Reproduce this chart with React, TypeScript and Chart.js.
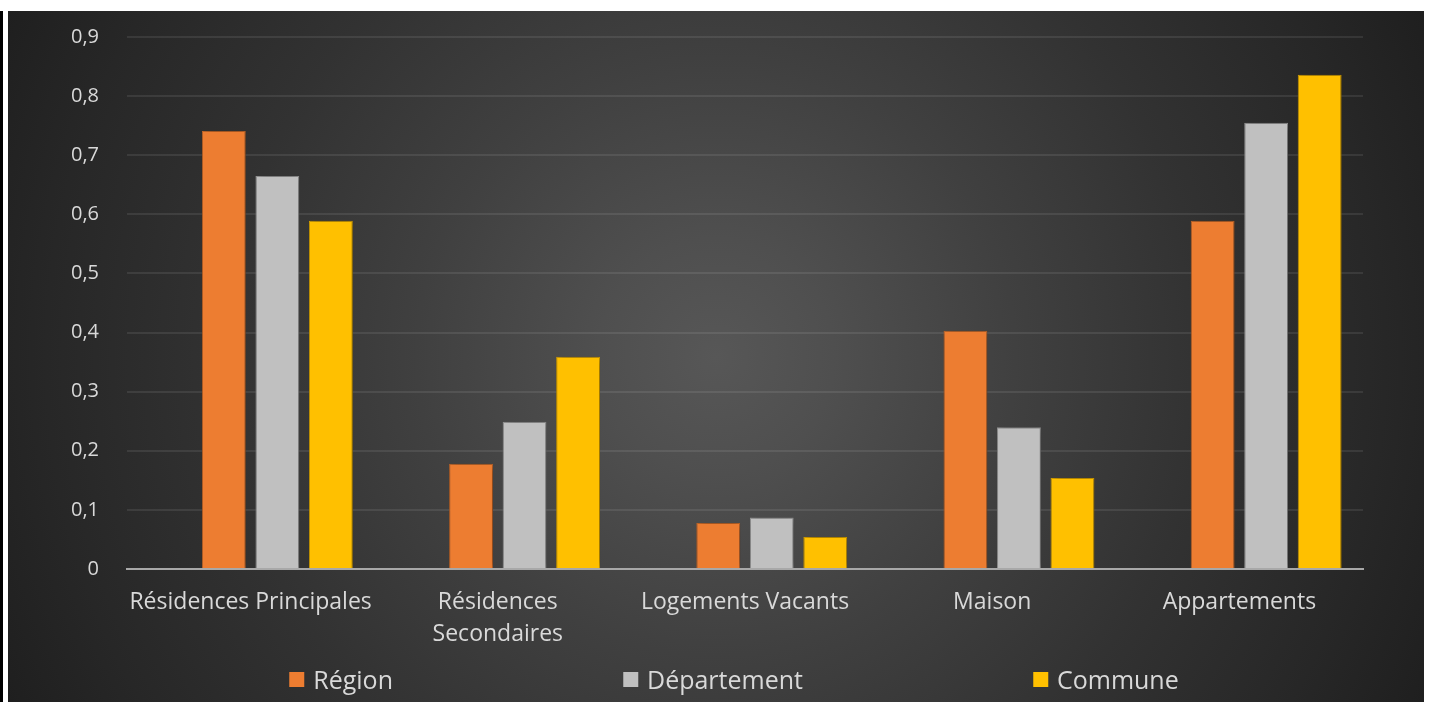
import React, { useEffect, useRef } from 'react';
import { Chart, registerables } from 'chart.js';

Chart.register(...registerables);

const categories: (string | string[])[] = [
  'Résidences Principales',
  ['Résidences', 'Secondaires'],
  'Logements Vacants',
  'Maison',
  'Appartements',
];
const regionValues = [0.741, 0.178, 0.078, 0.403, 0.589];
const departementValues = [0.665, 0.249, 0.087, 0.24, 0.755];
const communeValues = [0.589, 0.359, 0.054, 0.154, 0.836];
const seriesNames = ['Région', 'Département', 'Commune'];
const seriesColors = ['#ED7D31', '#C0C0C0', '#FFC000'];
const seriesBorders = ['#c86a2a', '#9a9a9a', '#d9a300'];
const yMin = 0;
const yMax = 0.9;
const yStep = 0.1;

const FONT = '"Open Sans", Lato, sans-serif';
const TEXT = '#d9d9d9';

const shadowPlugin = {
  id: 'barShadow',
  beforeDatasetsDraw(chart: any) {
    const ctx = chart.ctx;
    ctx.save();
    ctx.shadowColor = 'rgba(0,0,0,0.45)';
    ctx.shadowBlur = 9;
    ctx.shadowOffsetX = 2;
    ctx.shadowOffsetY = 0;
  },
  afterDatasetsDraw(chart: any) {
    chart.ctx.restore();
  },
};

export default function App() {
  const canvasRef = useRef<HTMLCanvasElement | null>(null);

  useEffect(() => {
    const canvas = canvasRef.current;
    if (!canvas) return;
    const values = [regionValues, departementValues, communeValues];
    const chart = new Chart(canvas, {
      type: 'bar',
      data: {
        labels: categories,
        datasets: [
          {
            label: '',
            data: categories.map(() => null),
            backgroundColor: 'transparent',
          },
          ...values.map((v, i) => ({
            label: seriesNames[i],
            data: v,
            backgroundColor: seriesColors[i],
            borderColor: seriesBorders[i],
            borderWidth: 1,
          })),
        ],
      },
      options: {
        animation: false,
        responsive: false,
        maintainAspectRatio: false,
        devicePixelRatio: 1,
        layout: { padding: { top: 26, right: 61, left: 0, bottom: 0 } },
        datasets: {
          bar: { categoryPercentage: 0.866, barPercentage: 0.82 },
        },
        plugins: {
          legend: { display: false },
          tooltip: { enabled: false },
        },
        scales: {
          x: {
            z: 1,
            grid: { display: false, drawTicks: false },
            border: { display: true, color: '#a8a8a8', width: 2 },
            ticks: {
              color: TEXT,
              font: { family: FONT, size: 23, lineHeight: 1.39 },
              padding: 17,
              maxRotation: 0,
              autoSkip: false,
            },
            afterFit(scale: any) {
              scale.height = 133;
            },
          },
          y: {
            min: yMin,
            max: yMax,
            grid: { color: 'rgba(255,255,255,0.085)', lineWidth: 2, drawTicks: false },
            border: { display: false },
            ticks: {
              stepSize: yStep,
              color: TEXT,
              font: { family: FONT, size: 20 },
              padding: 28,
              callback: (v: any) => {
                const n = Number(v);
                return n === 0 ? '0' : n.toFixed(1).replace('.', ',');
              },
            },
            afterFit(scale: any) {
              scale.width = 119;
              scale.paddingTop = 10;
              scale.paddingBottom = 0;
            },
          },
        },
      },
      plugins: [shadowPlugin],
    } as any);
    return () => chart.destroy();
  }, []);

  return (
    <div
      style={{
        position: 'absolute',
        left: 0,
        top: 0,
        width: 1429,
        height: 702,
        background: '#ffffff',
        overflow: 'hidden',
      }}
    >
      <div style={{ position: 'absolute', left: 0, top: 11, width: 3, height: 691, background: '#000' }} />
      <div
        style={{
          position: 'absolute',
          left: 8,
          top: 11,
          width: 1416,
          height: 691,
          background:
            'radial-gradient(circle farthest-corner at 50% 50%, #575757 0%, #4f4f4f 15%, #404040 38%, #323232 62%, #272727 85%, #1f1f1f 100%)',
        }}
      >
        <canvas ref={canvasRef} width={1416} height={691} style={{ position: 'absolute', left: 0, top: 0 }} />
        <div
          style={{
            position: 'absolute',
            left: 726,
            top: 652,
            transform: 'translateX(-50%)',
            display: 'flex',
            gap: 230,
            whiteSpace: 'nowrap',
            fontFamily: FONT,
            fontSize: 25,
            lineHeight: '32px',
            color: TEXT,
          }}
        >
          {seriesNames.map((name, i) => (
            <div key={name} style={{ display: 'flex', alignItems: 'center' }}>
              <span
                style={{ display: 'inline-block', width: 15, height: 15, background: seriesColors[i], marginRight: 9 }}
              />
              <span>{name}</span>
            </div>
          ))}
        </div>
      </div>
    </div>
  );
}
